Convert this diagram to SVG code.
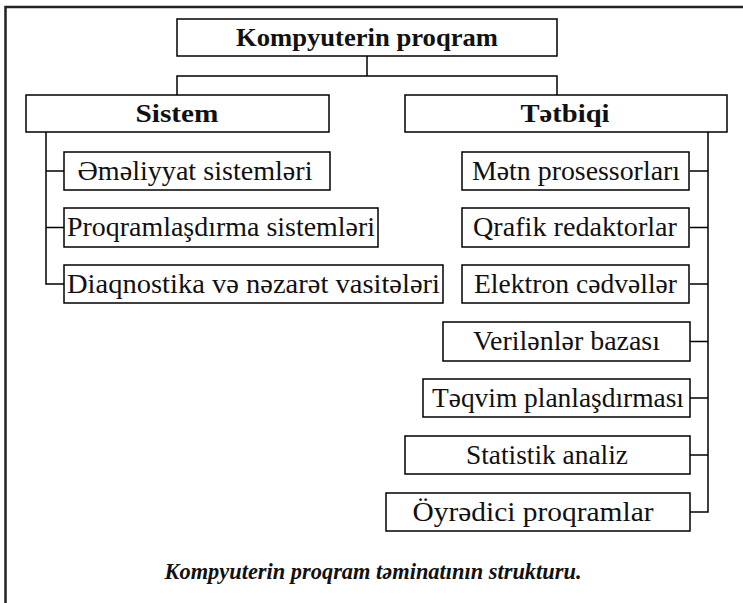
<svg xmlns="http://www.w3.org/2000/svg" width="743" height="603" viewBox="0 0 743 603">
<style>
.box{fill:#fff;stroke:#000;stroke-width:1.5}
.t{font-family:"Liberation Serif","Times New Roman",serif;font-size:27px;fill:#111;text-anchor:middle}
.b{font-weight:bold;font-size:26px}
.ln{fill:none;stroke:#000;stroke-width:1.5}
.cap{font-family:"Liberation Serif","Times New Roman",serif;font-size:23px;font-style:italic;font-weight:bold;fill:#111;text-anchor:middle}
</style>
<rect width="743" height="603" fill="#fff"/>
<path d="M5.5 603 V7 H743" fill="none" stroke="#222" stroke-width="2.5"/>
<g id="connectors" class="ln">
<path d="M367 56 V76 M177 95 V76 H557 V95"/>
<path d="M46 132 V284 H64 M46 171 H64 M46 227.5 H64"/>
<path d="M708 132 V512 H690 M708 171 H690 M708 227.5 H690 M708 284 H690 M708 341.5 H690 M708 398 H690 M708 455 H690"/>
</g>
<g id="root"><rect class="box" x="177" y="19" width="380" height="37"/><text class="t b" x="367" y="46" textLength="262" lengthAdjust="spacingAndGlyphs">Kompyuterin proqram</text></g>
<g id="sistem"><rect class="box" x="26" y="95" width="303" height="37"/><text class="t b" x="177" y="122" textLength="83" lengthAdjust="spacingAndGlyphs">Sistem</text></g>
<g id="tetbiqi"><rect class="box" x="405" y="95" width="322" height="37"/><text class="t b" x="565" y="122" textLength="89" lengthAdjust="spacingAndGlyphs">Tətbiqi</text></g>
<g id="emeliyyat"><rect class="box" x="64" y="152" width="266" height="38"/><text class="t" x="195" y="180" textLength="235" lengthAdjust="spacingAndGlyphs">Əməliyyat sistemləri</text></g>
<g id="proqramlasdirma"><rect class="box" x="64" y="208" width="314" height="39"/><text class="t" x="221" y="236" textLength="308" lengthAdjust="spacingAndGlyphs">Proqramlaşdırma sistemləri</text></g>
<g id="diaqnostika"><rect class="box" x="64" y="265" width="379" height="38"/><text class="t" x="253.5" y="293" textLength="373" lengthAdjust="spacingAndGlyphs">Diaqnostika və nəzarət vasitələri</text></g>
<g id="metn"><rect class="box" x="462" y="152" width="227" height="38"/><text class="t" x="576" y="180" textLength="208" lengthAdjust="spacingAndGlyphs">Mətn prosessorları</text></g>
<g id="qrafik"><rect class="box" x="462" y="208" width="227" height="39"/><text class="t" x="575" y="236" textLength="204" lengthAdjust="spacingAndGlyphs">Qrafik redaktorlar</text></g>
<g id="elektron"><rect class="box" x="462" y="265" width="227" height="38"/><text class="t" x="575.5" y="293" textLength="203" lengthAdjust="spacingAndGlyphs">Elektron cədvəllər</text></g>
<g id="verilenler"><rect class="box" x="443" y="322" width="247" height="39"/><text class="t" x="566.5" y="350" textLength="187" lengthAdjust="spacingAndGlyphs">Verilənlər bazası</text></g>
<g id="teqvim"><rect class="box" x="423" y="379" width="267" height="38"/><text class="t" x="558" y="407" textLength="252" lengthAdjust="spacingAndGlyphs">Təqvim planlaşdırması</text></g>
<g id="statistik"><rect class="box" x="405" y="436" width="285" height="38"/><text class="t" x="547" y="464" textLength="162" lengthAdjust="spacingAndGlyphs">Statistik analiz</text></g>
<g id="oyredici"><rect class="box" x="386" y="493" width="304" height="38"/><text class="t" x="533" y="521" textLength="241" lengthAdjust="spacingAndGlyphs">Öyrədici proqramlar</text></g>
<text class="cap" x="373" y="579" textLength="417" lengthAdjust="spacingAndGlyphs">Kompyuterin proqram təminatının strukturu.</text>
</svg>
